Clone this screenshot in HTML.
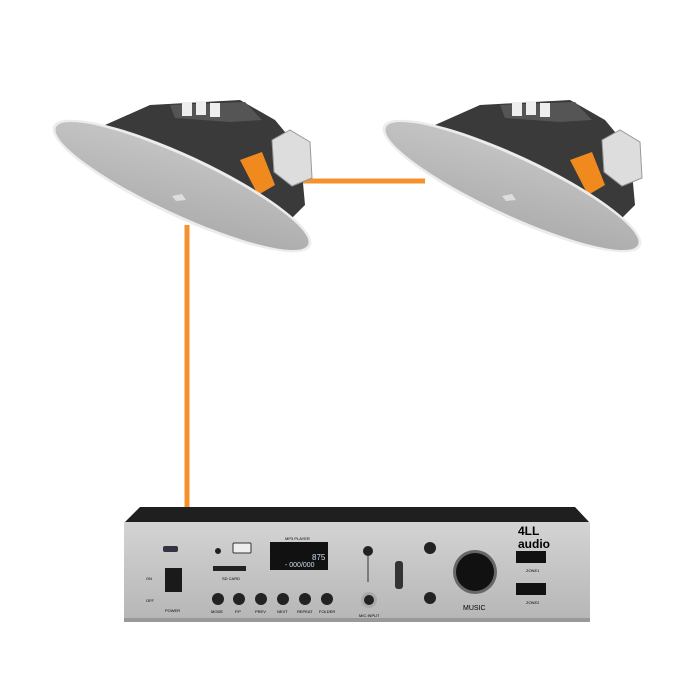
<!DOCTYPE html>
<html><head><style>body{margin:0;background:#fff}svg{display:block}text{font-family:"Liberation Sans",sans-serif}</style></head><body>
<svg width="700" height="700" viewBox="0 0 700 700" xmlns="http://www.w3.org/2000/svg">
<defs>
<linearGradient id="disk" x1="0" y1="0" x2="1" y2="1"><stop offset="0" stop-color="#c8c8c8"/><stop offset="1" stop-color="#a9a9a9"/></linearGradient>
<linearGradient id="panel" x1="0" y1="0" x2="0" y2="1"><stop offset="0" stop-color="#d4d4d4"/><stop offset="0.5" stop-color="#c4c4c4"/><stop offset="1" stop-color="#b6b6b6"/></linearGradient>
<g id="spk">
<path d="M105 125 L150 105 L240 100 L275 120 L300 150 L305 205 L275 235 L110 160 Z" fill="#3a3a3a"/>
<path d="M170 105 L245 102 L262 120 L230 122 L175 118 Z" fill="#555"/>
<rect x="182" y="102" width="10" height="14" fill="#eee"/><rect x="196" y="101" width="10" height="14" fill="#eee"/><rect x="210" y="103" width="10" height="14" fill="#eee"/>
<path d="M240 160 L262 152 L275 185 L258 195 Z" fill="#f08a1e"/>
<path d="M272 140 L290 130 L310 142 L312 178 L292 186 L274 172 Z" fill="#ddd" stroke="#999" stroke-width="1"/>
<ellipse cx="182" cy="186" rx="142" ry="31" transform="rotate(25 182 186)" fill="#ececec"/>
<ellipse cx="182" cy="186" rx="139" ry="28" transform="rotate(25 182 186)" fill="url(#disk)"/>
<path d="M172 196 L182 194 L186 200 L176 201 Z" fill="#ddd"/>
</g>
</defs>
<line x1="187" y1="225" x2="187" y2="510" stroke="#f5922f" stroke-width="5"/>
<line x1="300" y1="181" x2="425" y2="181" stroke="#f5922f" stroke-width="5"/>
<use href="#spk"/>
<use href="#spk" transform="translate(330,0)"/>
<path d="M140 507 L575 507 L590 523 L124 523 Z" fill="#1f1f1f"/>
<rect x="124" y="522" width="466" height="100" fill="url(#panel)"/>
<rect x="124" y="618" width="466" height="4" fill="#999"/>
<rect x="163" y="546" width="15" height="6" rx="2" fill="#334"/>
<rect x="165" y="568" width="17" height="24" fill="#1a1a1a"/><text x="146" y="580" font-size="4">ON</text><text x="146" y="602" font-size="4">OFF</text><text x="165" y="612" font-size="4">POWER</text>
<circle cx="218" cy="551" r="3" fill="#222"/><rect x="233" y="543" width="18" height="10" rx="1" fill="#eee" stroke="#333"/>
<rect x="213" y="566" width="33" height="5" fill="#222"/><text x="222" y="580" font-size="4">SD CARD</text>
<rect x="270" y="542" width="58" height="28" fill="#111"/><text x="312" y="560" font-size="8" fill="#cde">875</text><text x="285" y="567" font-size="7" fill="#cde">- 000/000</text>
<text x="285" y="540" font-size="4">MP3 PLAYER</text>
<g fill="#222"><circle cx="218" cy="599" r="6"/><circle cx="239" cy="599" r="6"/><circle cx="261" cy="599" r="6"/><circle cx="283" cy="599" r="6"/><circle cx="305" cy="599" r="6"/><circle cx="327" cy="599" r="6"/></g>
<g font-size="4"><text x="211" y="613">MODE</text><text x="235" y="613">P.P</text><text x="255" y="613">PREV</text><text x="277" y="613">NEXT</text><text x="297" y="613">REPEAT</text><text x="319" y="613">FOLDER</text><text x="359" y="617">MIC INPUT</text></g>
<circle cx="368" cy="551" r="5" fill="#222"/><line x1="368" y1="556" x2="368" y2="582" stroke="#333"/>
<circle cx="369" cy="600" r="8" fill="#aaa"/><circle cx="369" cy="600" r="5" fill="#222"/>
<rect x="395" y="561" width="8" height="28" rx="3" fill="#333"/>
<circle cx="430" cy="548" r="6" fill="#222"/><circle cx="430" cy="598" r="6" fill="#222"/>
<circle cx="475" cy="572" r="22" fill="#666"/><circle cx="475" cy="572" r="19" fill="#111"/>
<text x="463" y="610" font-size="7">MUSIC</text>
<text x="518" y="535" font-size="12" font-weight="bold">4LL</text><text x="518" y="548" font-size="12" font-weight="bold">audio</text>
<rect x="516" y="551" width="30" height="12" fill="#111"/><rect x="516" y="583" width="30" height="12" fill="#111"/>
<text x="526" y="572" font-size="4">ZONE1</text><text x="526" y="604" font-size="4">ZONE2</text>
</svg>
</body></html>
